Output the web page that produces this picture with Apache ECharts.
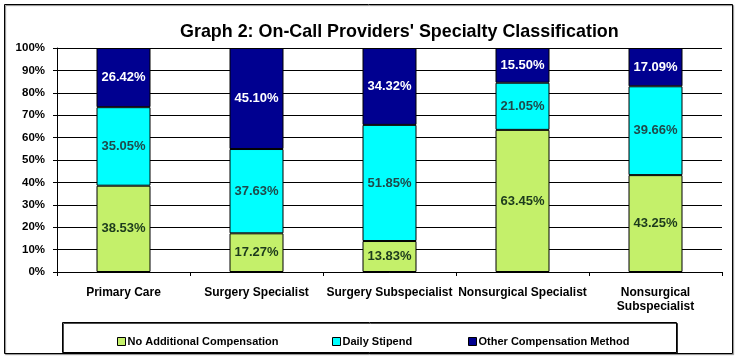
<!DOCTYPE html>
<html>
<head>
<meta charset="utf-8">
<script src="https://cdn.jsdelivr.net/npm/echarts@6/dist/echarts.min.js"></script>
<style>html,body{margin:0;padding:0;background:#fff;}#c{width:739px;height:359px;}</style>
</head>
<body>
<div id="c"></div>
<script>
var categories = ['Primary Care', 'Surgery Specialist', 'Surgery Subspecialist', 'Nonsurgical Specialist', 'Nonsurgical\nSubspecialist'];
var noAdditional = [38.53, 17.27, 13.83, 63.45, 43.25];
var dailyStipend = [35.05, 37.63, 51.85, 21.05, 39.66];
var otherMethod = [26.42, 45.10, 34.32, 15.50, 17.09];
var seriesNames = ['No Additional Compensation', 'Daily Stipend', 'Other Compensation Method'];
var yTicks = [0, 10, 20, 30, 40, 50, 60, 70, 80, 90, 100];

var FONT = 'Arial, "Liberation Sans", sans-serif';
var colors = ['#c4f06a', '#00ffff', '#000090'];
var labelColors = ['#1c3a1c', '#1e4a4a', '#ffffff'];
var values = [noAdditional, dailyStipend, otherMethod];

var chart = echarts.init(document.getElementById('c'), null, {renderer: 'canvas'});

var series = seriesNames.map(function (n, i) {
  return {
    name: n, type: 'bar', stack: 'total', barWidth: 54,
    data: values[i],
    itemStyle: {color: colors[i], borderColor: '#000', borderWidth: 1},
    label: {
      show: true, position: 'inside',
      formatter: function (p) { return p.value.toFixed(2) + '%'; },
      color: labelColors[i], fontFamily: FONT, fontWeight: 'bold', fontSize: 13
    },
    z: 3
  };
});

var legendX = [112, 327, 463];
var legends = seriesNames.map(function (n, i) {
  return {
    data: [n], left: legendX[i], top: 331, icon: 'rect', itemWidth: 8, itemHeight: 8, itemGap: 2,
    itemStyle: {borderColor: '#000', borderWidth: 1},
    textStyle: {fontFamily: FONT, fontSize: 11, fontWeight: 'bold', color: '#000', padding: [0, 0, 0, -3]},
    selectedMode: false
  };
});

chart.setOption({
  animation: false,
  backgroundColor: '#fff',
  title: {
    text: "Graph 2: On-Call Providers' Specialty Classification",
    left: 175, top: 18,
    textStyle: {fontFamily: FONT, fontSize: 17.9, fontWeight: 'bold', color: '#000'}
  },
  legend: legends,
  grid: {left: 57, right: 17, top: 48, bottom: 87, containLabel: false},
  xAxis: {
    type: 'category', data: categories,
    axisLine: {lineStyle: {color: '#000', width: 1}},
    axisTick: {show: true, length: 4, lineStyle: {color: '#000'}},
    axisLabel: {fontFamily: FONT, fontSize: 12, fontWeight: 'bold', color: '#000', margin: 14, lineHeight: 14, interval: 0}
  },
  yAxis: {
    type: 'value', min: yTicks[0], max: yTicks[yTicks.length - 1], interval: 10,
    axisLine: {show: true, lineStyle: {color: '#000', width: 1}},
    axisTick: {show: true, length: 4, lineStyle: {color: '#000'}},
    splitLine: {lineStyle: {color: '#000', width: 1}},
    axisLabel: {fontFamily: FONT, fontSize: 11.5, fontWeight: 'bold', color: '#000', margin: 12, formatter: '{value}%'}
  },
  graphic: [
    {type: 'rect', shape: {x: 4.5, y: 4.5, width: 728, height: 349}, style: {fill: 'none', stroke: '#000', lineWidth: 1, shadowColor: 'rgba(0,0,0,0.5)', shadowOffsetX: 1, shadowOffsetY: 1, shadowBlur: 1}, z: 0, silent: true},
    {type: 'rect', shape: {x: 62.5, y: 322.5, width: 614, height: 30}, style: {fill: '#fff', stroke: '#000', lineWidth: 1, shadowColor: 'rgba(0,0,0,0.7)', shadowOffsetX: 1, shadowOffsetY: 1, shadowBlur: 0}, z: 0, silent: true}
  ],
  series: series
});
</script>
</body>
</html>
